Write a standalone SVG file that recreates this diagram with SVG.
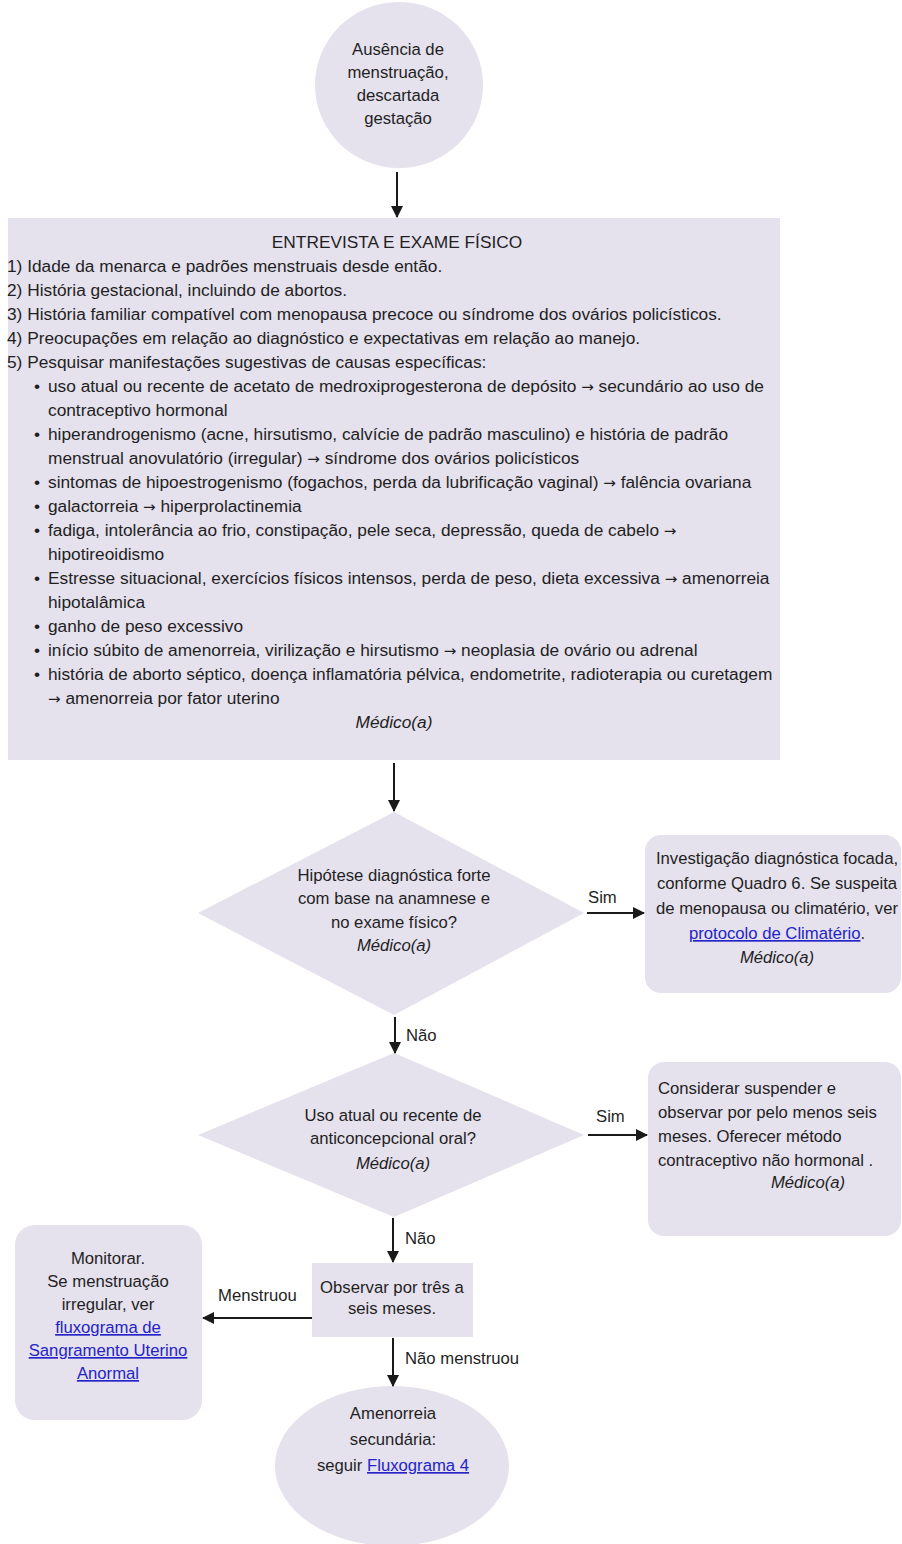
<svg xmlns="http://www.w3.org/2000/svg" width="902" height="1544" viewBox="0 0 902 1544">
<defs>
<marker id="ah" markerWidth="12" markerHeight="12" refX="11" refY="6" orient="auto" markerUnits="userSpaceOnUse">
<path d="M0,0 L12,6 L0,12 Z" fill="#1a1a1a"/>
</marker>
<style>
.shape{fill:#e5e1ed;stroke:none}
text{font-family:"Liberation Sans",Arial,sans-serif;fill:#1f1f1f}
.big{font-size:17.3px}
.n{font-size:16.7px}
.c{text-anchor:middle}
.i{font-style:italic}
.ar{font-family:"DejaVu Sans",sans-serif;font-size:15px}
.lnk{fill:#2424c8;text-decoration:underline}
.lbl{font-size:16.7px}
.conn{stroke:#1a1a1a;stroke-width:2;fill:none;marker-end:url(#ah)}
</style>
</defs>
<rect width="902" height="1544" fill="#ffffff"/>

<g id="start">
<ellipse class="shape" cx="399" cy="85" rx="84" ry="83"/>
<text class="n c" x="398" y="55">Ausência de</text>
<text class="n c" x="398" y="78">menstruação,</text>
<text class="n c" x="398" y="101">descartada</text>
<text class="n c" x="398" y="124">gestação</text>
</g>

<g id="entrevista">
<rect class="shape" x="8" y="218" width="772" height="542"/>
<text class="big c" x="397" y="248" font-size="16.5">ENTREVISTA E EXAME FÍSICO</text>
<text class="big" x="7" y="272">1) Idade da menarca e padrões menstruais desde então.</text>
<text class="big" x="7" y="296">2) História gestacional, incluindo de abortos.</text>
<text class="big" x="7" y="320">3) História familiar compatível com menopausa precoce ou síndrome dos ovários policísticos.</text>
<text class="big" x="7" y="344">4) Preocupações em relação ao diagnóstico e expectativas em relação ao manejo.</text>
<text class="big" x="7" y="368">5) Pesquisar manifestações sugestivas de causas específicas:</text>
<text class="big" x="34" y="392">•</text><text class="big" x="48" y="392">uso atual ou recente de acetato de medroxiprogesterona de depósito <tspan class="ar">→</tspan> secundário ao uso de</text>
<text class="big" x="48" y="416">contraceptivo hormonal</text>
<text class="big" x="34" y="440">•</text><text class="big" x="48" y="440">hiperandrogenismo (acne, hirsutismo, calvície de padrão masculino) e história de padrão</text>
<text class="big" x="48" y="464">menstrual anovulatório (irregular) <tspan class="ar">→</tspan> síndrome dos ovários policísticos</text>
<text class="big" x="34" y="488">•</text><text class="big" x="48" y="488">sintomas de hipoestrogenismo (fogachos, perda da lubrificação vaginal) <tspan class="ar">→</tspan> falência ovariana</text>
<text class="big" x="34" y="512">•</text><text class="big" x="48" y="512">galactorreia <tspan class="ar">→</tspan> hiperprolactinemia</text>
<text class="big" x="34" y="536">•</text><text class="big" x="48" y="536">fadiga, intolerância ao frio, constipação, pele seca, depressão, queda de cabelo <tspan class="ar">→</tspan></text>
<text class="big" x="48" y="560">hipotireoidismo</text>
<text class="big" x="34" y="584">•</text><text class="big" x="48" y="584">Estresse situacional, exercícios físicos intensos, perda de peso, dieta excessiva <tspan class="ar">→</tspan> amenorreia</text>
<text class="big" x="48" y="608">hipotalâmica</text>
<text class="big" x="34" y="632">•</text><text class="big" x="48" y="632">ganho de peso excessivo</text>
<text class="big" x="34" y="656">•</text><text class="big" x="48" y="656">início súbito de amenorreia, virilização e hirsutismo <tspan class="ar">→</tspan> neoplasia de ovário ou adrenal</text>
<text class="big" x="34" y="680">•</text><text class="big" x="48" y="680">história de aborto séptico, doença inflamatória pélvica, endometrite, radioterapia ou curetagem</text>
<text class="big" x="48" y="704"><tspan class="ar">→</tspan> amenorreia por fator uterino</text>
<text class="big c i" x="394" y="728">Médico(a)</text>
</g>

<g id="decisao1">
<polygon class="shape" points="394,812 584,913 394,1015 198,913"/>
<text class="n c" x="394" y="881">Hipótese diagnóstica forte</text>
<text class="n c" x="394" y="904">com base na anamnese e</text>
<text class="n c" x="394" y="928">no exame físico?</text>
<text class="n c i" x="394" y="951">Médico(a)</text>
</g>

<g id="investigacao">
<rect class="shape" x="645" y="835" width="256" height="158" rx="16"/>
<text class="n c" x="777" y="864">Investigação diagnóstica focada,</text>
<text class="n c" x="777" y="889">conforme Quadro 6. Se suspeita</text>
<text class="n c" x="777" y="914">de menopausa ou climatério, ver</text>
<text class="n c" x="777" y="939"><tspan class="lnk">protocolo de Climatério</tspan>.</text>
<text class="n c i" x="777" y="963">Médico(a)</text>
</g>

<g id="decisao2">
<polygon class="shape" points="394,1053 584,1135 394,1217 198,1135"/>
<text class="n c" x="393" y="1121">Uso atual ou recente de</text>
<text class="n c" x="393" y="1144">anticoncepcional oral?</text>
<text class="n c i" x="393" y="1169">Médico(a)</text>
</g>

<g id="suspender">
<rect class="shape" x="648" y="1062" width="253" height="174" rx="16"/>
<text class="n" x="658" y="1094">Considerar suspender e</text>
<text class="n" x="658" y="1118">observar por pelo menos seis</text>
<text class="n" x="658" y="1142">meses. Oferecer método</text>
<text class="n" x="658" y="1166">contraceptivo não hormonal .</text>
<text class="n c i" x="808" y="1188">Médico(a)</text>
</g>

<g id="observar">
<rect class="shape" x="312" y="1263" width="161" height="74"/>
<text class="n c" x="392" y="1293">Observar por três a</text>
<text class="n c" x="392" y="1314">seis meses.</text>
</g>

<g id="monitorar">
<rect class="shape" x="15" y="1225" width="187" height="195" rx="20"/>
<text class="n c" x="108" y="1264">Monitorar.</text>
<text class="n c" x="108" y="1287">Se menstruação</text>
<text class="n c" x="108" y="1310">irregular, ver</text>
<text class="n c lnk" x="108" y="1333">fluxograma de</text>
<text class="n c lnk" x="108" y="1356">Sangramento Uterino</text>
<text class="n c lnk" x="108" y="1379">Anormal</text>
</g>

<g id="amenorreia">
<ellipse class="shape" cx="392" cy="1466" rx="117" ry="80"/>
<text class="n c" x="393" y="1419">Amenorreia</text>
<text class="n c" x="393" y="1445">secundária:</text>
<text class="n c" x="393" y="1471">seguir <tspan class="lnk">Fluxograma 4</tspan></text>
</g>

<g id="connectors">
<line class="conn" x1="397" y1="172" x2="397" y2="217"/>
<line class="conn" x1="394" y1="763" x2="394" y2="811"/>
<line class="conn" x1="587" y1="913" x2="644" y2="913"/>
<line class="conn" x1="395" y1="1017" x2="395" y2="1053"/>
<line class="conn" x1="588" y1="1135" x2="647" y2="1135"/>
<line class="conn" x1="393" y1="1218" x2="393" y2="1262"/>
<line class="conn" x1="312" y1="1318" x2="203" y2="1318"/>
<line class="conn" x1="393" y1="1338" x2="393" y2="1386"/>
<text class="lbl" x="588" y="903">Sim</text>
<text class="lbl" x="406" y="1041">Não</text>
<text class="lbl" x="596" y="1122">Sim</text>
<text class="lbl" x="405" y="1244">Não</text>
<text class="lbl" x="218" y="1301">Menstruou</text>
<text class="lbl" x="405" y="1364">Não menstruou</text>
</g>
</svg>
